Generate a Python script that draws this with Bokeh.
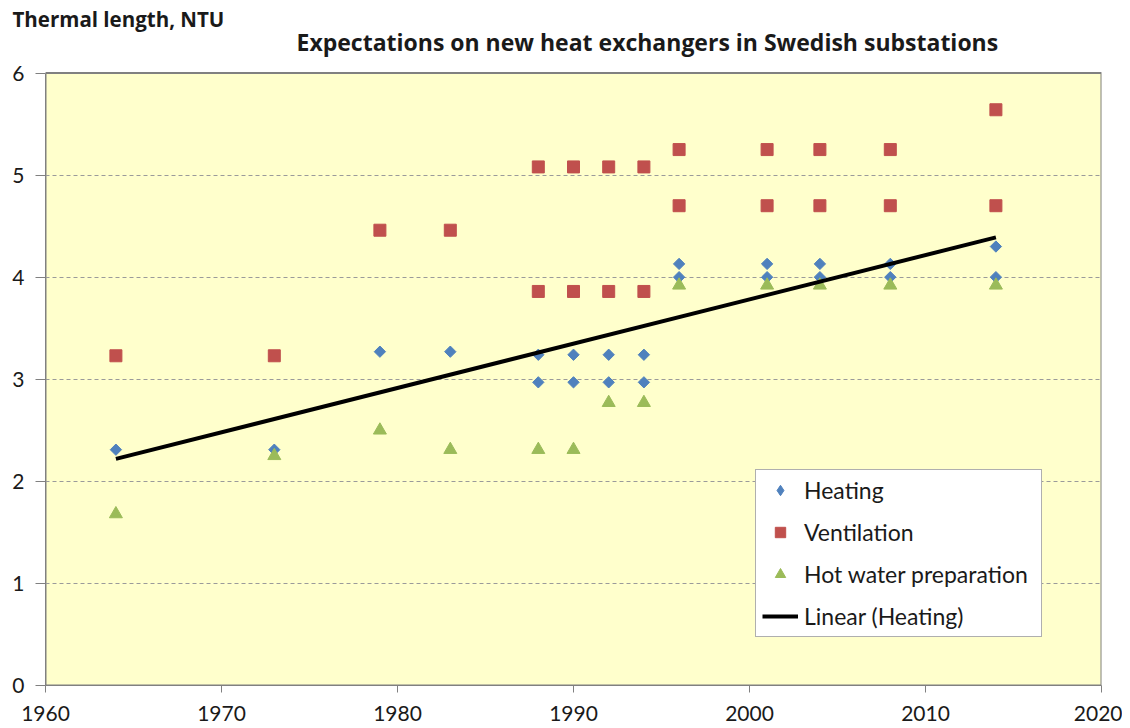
import math
from bokeh.plotting import figure
from bokeh.models import Title, Legend, LegendItem, FixedTicker, BoxAnnotation, Label
from bokeh.embed import file_html
from bokeh.resources import INLINE

# ---- data ----
heating_years = [1964, 1973, 1979, 1983, 1988, 1988, 1990, 1990, 1992, 1992, 1994, 1994,
                 1996, 1996, 2001, 2001, 2004, 2004, 2008, 2008, 2014, 2014]
heating_ntu = [2.31, 2.31, 3.27, 3.27, 3.24, 2.97, 3.24, 2.97, 3.24, 2.97, 3.24, 2.97,
               4.13, 4.00, 4.13, 4.00, 4.13, 4.00, 4.13, 4.00, 4.30, 4.00]

vent_years = [1964, 1973, 1979, 1983, 1988, 1988, 1990, 1990, 1992, 1992, 1994, 1994,
              1996, 1996, 2001, 2001, 2004, 2004, 2008, 2008, 2014, 2014]
vent_ntu = [3.23, 3.23, 4.46, 4.46, 5.08, 3.86, 5.08, 3.86, 5.08, 3.86, 5.08, 3.86,
            5.25, 4.70, 5.25, 4.70, 5.25, 4.70, 5.25, 4.70, 5.64, 4.70]

hw_years = [1964, 1973, 1979, 1983, 1988, 1990, 1992, 1994, 1996, 2001, 2004, 2008, 2014]
hw_ntu = [1.68, 2.25, 2.50, 2.31, 2.31, 2.31, 2.77, 2.77, 3.92, 3.92, 3.92, 3.92, 3.92]

trend_years = [1964, 2014]
trend_ntu = [2.22, 4.39]

x_ticks = [1960, 1970, 1980, 1990, 2000, 2010, 2020]
y_ticks = [0, 1, 2, 3, 4, 5, 6]

title_text = "Expectations on new heat exchangers in Swedish substations"
ylabel_text = "Thermal length, NTU"

# ---- layout geometry (pixels) ----
W, H = 1122, 728
LEFT, RIGHT_B, TOP, BOTTOM_B = 45, 21, 32, 43
PLOT_TOP_PX = 72.5          # where y = 6 sits
FRAME_BOTTOM_PX = H - BOTTOM_B
px_per_unit = (FRAME_BOTTOM_PX - PLOT_TOP_PX) / (y_ticks[-1] - y_ticks[0])
y_top = y_ticks[0] + (FRAME_BOTTOM_PX - TOP) / px_per_unit
frame_w = W - LEFT - RIGHT_B
px_per_year = frame_w / (x_ticks[-1] - x_ticks[0])

TICK_FONT = "Lato"
BOLD_FONT = "Open Sans"

p = figure(width=W, height=H, output_backend="svg", toolbar_location=None,
           x_range=(x_ticks[0], x_ticks[-1]), y_range=(y_ticks[0], y_top), title=None,
           min_border_left=LEFT, min_border_right=RIGHT_B, min_border_top=TOP,
           min_border_bottom=BOTTOM_B)

p.background_fill_color = "white"
p.border_fill_color = "white"
p.outline_line_color = None

# yellow plot area with grey border
p.add_layout(BoxAnnotation(left=x_ticks[0], right=x_ticks[-1], bottom=y_ticks[0], top=y_ticks[-1],
                           fill_color="#FFFFCC", fill_alpha=1.0,
                           line_color="#808080", line_alpha=1.0, line_width=2,
                           level="image"))

p.xgrid.grid_line_color = None
p.ygrid.ticker = FixedTicker(ticks=y_ticks[1:-1])
p.ygrid.grid_line_color = "#9A9A9A"
p.ygrid.grid_line_dash = "4 3"
p.ygrid.grid_line_width = 1

p.xaxis.ticker = FixedTicker(ticks=x_ticks)
p.yaxis.ticker = FixedTicker(ticks=y_ticks)
p.yaxis.bounds = (y_ticks[0], y_ticks[-1])
for ax in (p.xaxis, p.yaxis):
    ax.axis_line_color = "#808080"
    ax.major_tick_line_color = "#808080"
    ax.minor_tick_line_color = None
    ax.major_tick_in = 0
    ax.major_label_text_font = TICK_FONT
    ax.major_label_text_font_size = "21px"
    ax.major_label_text_color = "#1a1a1a"
p.yaxis.major_tick_out = 10
p.xaxis.major_tick_out = 7
p.yaxis.major_label_standoff = 11
p.xaxis.major_label_standoff = 13

r_heat = p.scatter(heating_years, heating_ntu, marker="square", size=8, angle=math.pi / 4,
                   fill_color="#4F81BD", line_color="#4F81BD")
r_vent = p.scatter(vent_years, vent_ntu, marker="square", size=12,
                   fill_color="#C0504D", line_color="#C0504D")
r_hw = p.scatter(hw_years, hw_ntu, marker="triangle", size=13,
                 fill_color="#9BBB59", line_color="#9BBB59")
r_trend = p.line(trend_years, trend_ntu, line_color="black", line_width=4)
# legend-only swatch for the diamond symbol (no visible point in the plot)
r_heat_key = p.scatter(x=[float("nan")], y=[float("nan")], marker="diamond", size=8,
                       fill_color="#4F81BD", line_color="#4F81BD")

legend = Legend(items=[
    LegendItem(label="Heating", renderers=[r_heat_key]),
    LegendItem(label="Ventilation", renderers=[r_vent]),
    LegendItem(label="Hot water preparation", renderers=[r_hw]),
    LegendItem(label="Linear (Heating)", renderers=[r_trend]),
], location=(710, 48))
legend.label_text_font = TICK_FONT
legend.label_text_font_size = "23px"
legend.label_text_color = "#1a1a1a"
legend.border_line_color = "#606060"
legend.border_line_width = 1
legend.background_fill_color = "white"
legend.background_fill_alpha = 1
legend.spacing = 14
legend.padding = 6
legend.margin = 0
legend.glyph_width = 36
legend.glyph_height = 26
legend.label_standoff = 6
legend.label_height = 26
legend.label_width = 231
p.add_layout(legend, "center")

# main title, drawn inside the (extended) frame above the plot area
title_x = x_ticks[0] + (296 - LEFT) / px_per_year
title_y = y_ticks[0] + (FRAME_BOTTOM_PX - 41) / px_per_unit
p.add_layout(Label(x=title_x, y=title_y, text=title_text,
                   text_font=BOLD_FONT, text_font_size="23px", text_font_style="bold",
                   text_baseline="alphabetic", text_align="left", text_color="#1a1a1a"))

t_ylab = Title(text=ylabel_text, align="left", offset=12 - LEFT, standoff=0,
               text_font=BOLD_FONT, text_font_size="20.5px", text_font_style="bold",
               text_color="#1a1a1a")
p.add_layout(t_ylab, "above")

open("out.html", "w").write(file_html(p, INLINE))
